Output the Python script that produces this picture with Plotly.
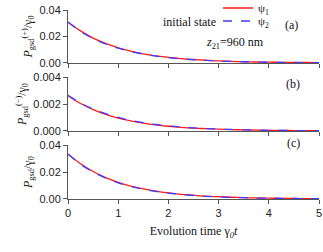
import plotly.graph_objects as go
from plotly.subplots import make_subplots

t = [0, 0.25, 0.5, 0.75, 1.0, 1.25, 1.5, 1.75, 2.0, 2.25, 2.5, 2.75, 3.0,
     3.25, 3.5, 3.75, 4.0, 4.25, 4.5, 4.75, 5.0]

pa_psi1 = [0.0310, 0.0242, 0.0188, 0.0147, 0.0114, 0.0089, 0.0069, 0.0054, 0.0042, 0.0033, 0.0026,
           0.0020, 0.0015, 0.0012, 0.0009, 0.0007, 0.0006, 0.0004, 0.0003, 0.0003, 0.0002]
pa_psi2 = [0.0308, 0.0238, 0.0184, 0.0143, 0.0111, 0.0086, 0.0067, 0.0052, 0.0040, 0.0031, 0.0024,
           0.0019, 0.0015, 0.0011, 0.0009, 0.0007, 0.0005, 0.0004, 0.0003, 0.0002, 0.0002]
pb_psi1 = [0.00262, 0.00204, 0.00159, 0.00124, 0.00096, 0.00075, 0.00058, 0.00045, 0.00035, 0.00027, 0.00021,
           0.00017, 0.00013, 0.00010, 0.00008, 0.00006, 0.00005, 0.00004, 0.00003, 0.00002, 0.00002]
pb_psi2 = [0.00265, 0.00208, 0.00163, 0.00128, 0.00100, 0.00078, 0.00061, 0.00048, 0.00037, 0.00029, 0.00023,
           0.00018, 0.00014, 0.00011, 0.00008, 0.00007, 0.00005, 0.00004, 0.00003, 0.00002, 0.00002]
pc_psi1 = [0.0335, 0.0262, 0.0204, 0.0159, 0.0124, 0.0096, 0.0075, 0.0058, 0.0045, 0.0035, 0.0028,
           0.0021, 0.0017, 0.0013, 0.0010, 0.0008, 0.0006, 0.0005, 0.0004, 0.0003, 0.0002]
pc_psi2 = [0.0333, 0.0258, 0.0200, 0.0155, 0.0120, 0.0093, 0.0072, 0.0056, 0.0044, 0.0034, 0.0026,
           0.0020, 0.0016, 0.0012, 0.0010, 0.0007, 0.0006, 0.0005, 0.0004, 0.0003, 0.0002]

x_ticks = [0, 1, 2, 3, 4, 5]
ya_ticks = [0.00, 0.02, 0.04]
yb_ticks = [0.000, 0.002, 0.004]
yc_ticks = [0.00, 0.02, 0.04]

y_titles = ["<i>P</i><sub>gsd</sub><sup>(+)</sup>/γ<sub>0</sub>",
            "<i>P</i><sub>gsd</sub><sup>(−)</sup>/γ<sub>0</sub>",
            "<i>P</i><sub>gsd</sub>/γ<sub>0</sub>"]

RED = "#ff1a1a"
BLUE = "#3d3dff"
SERIF = "Liberation Serif"
SANS = "Liberation Sans"
AXC = "#555555"
TXT = "#111111"

fig = make_subplots(rows=3, cols=1, shared_xaxes=False, vertical_spacing=0.07)

data = [(pa_psi1, pa_psi2), (pb_psi1, pb_psi2), (pc_psi1, pc_psi2)]
for i, (s1, s2) in enumerate(data):
    r = i + 1
    fig.add_trace(go.Scatter(x=t, y=s1, mode="lines", name="ψ<sub>1</sub>",
                             line=dict(color=RED, width=1.3, shape="spline"),
                             showlegend=(i == 0), legend="legend"), row=r, col=1)
    fig.add_trace(go.Scatter(x=t, y=s2, mode="lines", name="ψ<sub>2</sub>",
                             line=dict(color=BLUE, width=1.3, dash="dash", shape="spline"),
                             showlegend=(i == 0), legend="legend2"), row=r, col=1)

domains = [[0.72, 1.0], [0.36, 0.645], [0.0, 0.285]]
yticks = [ya_ticks, yb_ticks, yc_ticks]
yfmt = [".2f", ".3f", ".2f"]
for i in range(3):
    r = i + 1
    fig.update_xaxes(row=r, col=1, range=[0, 5], tickvals=x_ticks,
                     showticklabels=(i == 2), ticks="outside", ticklen=4, tickcolor=AXC,
                     showline=True, linecolor=AXC, linewidth=1, showgrid=False, zeroline=False,
                     ticklabeloverflow="allow",
                     tickfont=dict(family=SANS, size=11, color="#222"))
    fig.update_yaxes(row=r, col=1, range=[0, yticks[i][-1]], tickvals=yticks[i], tickformat=yfmt[i],
                     domain=domains[i], ticks="outside", ticklen=4, tickcolor=AXC,
                     showline=True, linecolor=AXC, linewidth=1, showgrid=False, zeroline=False,
                     tickfont=dict(family=SANS, size=11, color="#222"),
                     title=dict(text=y_titles[i], font=dict(family=SERIF, size=12, color=TXT),
                                standoff=4))

fig.update_xaxes(row=3, col=1,
                 title=dict(text="Evolution time γ<sub><i>0</i></sub><i>t</i>",
                            font=dict(family=SERIF, size=12, color=TXT), standoff=8))

def px_x(p):
    return (p - 68) / 251.0

def px_y(p):
    return (199 - p) / 189.0

ann_font = dict(family=SERIF, size=12, color=TXT)
fig.add_annotation(xref="paper", yref="paper", x=px_x(300), y=px_y(16), text="(a)",
                   showarrow=False, font=ann_font)
fig.add_annotation(xref="paper", yref="paper", x=px_x(302), y=px_y(84), text="(b)",
                   showarrow=False, font=ann_font)
fig.add_annotation(xref="paper", yref="paper", x=px_x(302), y=px_y(152), text="(c)",
                   showarrow=False, font=ann_font)
fig.add_annotation(xref="paper", yref="paper", x=px_x(266), y=px_y(33),
                   text="<i>z</i><sub>21</sub>=960 nm", showarrow=False, font=ann_font)
fig.add_annotation(xref="paper", yref="paper", x=px_x(218), y=px_y(13), xanchor="right",
                   text="initial state", showarrow=False, font=ann_font)

leg_common = dict(xanchor="left", yanchor="middle", bgcolor="rgba(0,0,0,0)",
                  itemwidth=30, font=dict(family=SERIF, size=11, color=TXT))
fig.update_layout(
    width=323, height=252,
    margin=dict(l=68, r=4, t=10, b=53, autoexpand=False),
    plot_bgcolor="white", paper_bgcolor="white",
    showlegend=True,
    legend=dict(x=px_x(218), y=px_y(8), **leg_common),
    legend2=dict(x=px_x(218), y=px_y(21), **leg_common),
)

fig.write_html("out.html", config={"displayModeBar": False},
               post_script="document.body.style.margin='0';document.body.style.padding='0';")
